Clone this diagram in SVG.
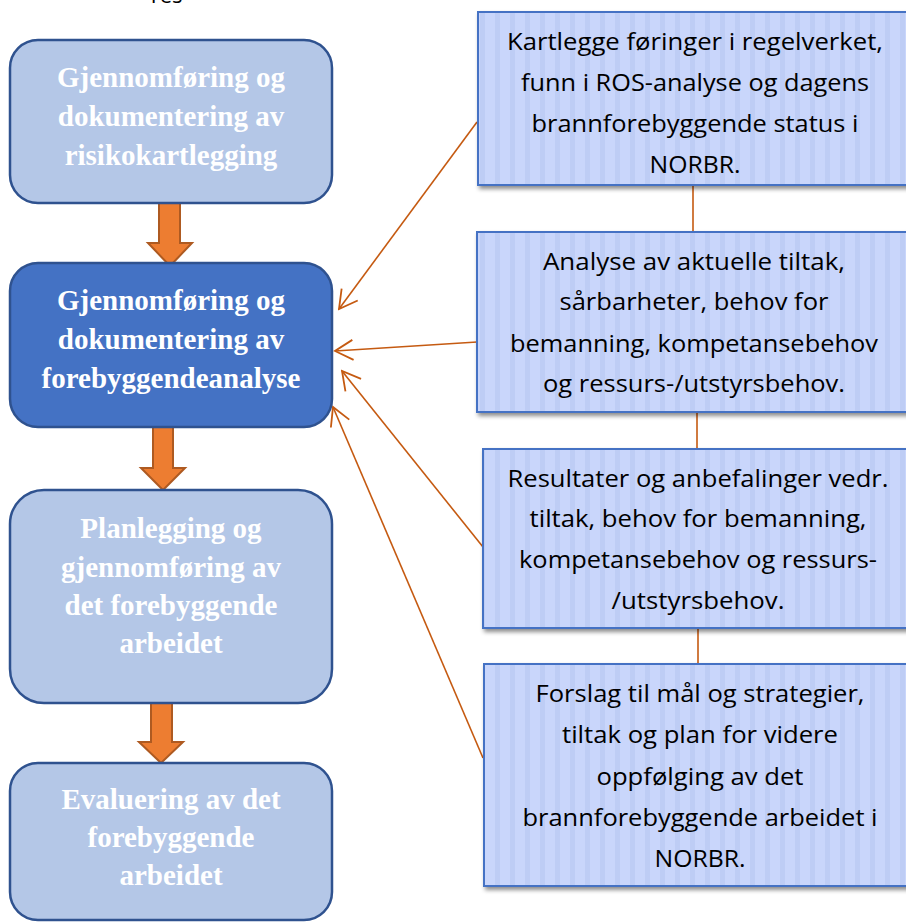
<svg xmlns="http://www.w3.org/2000/svg" width="906" height="922" viewBox="0 0 906 922">
<defs>
<style>
.lbox{fill:#B4C7E7;stroke:#2F528F;stroke-width:2.5}
.dbox{fill:#4472C4;stroke:#2F528F;stroke-width:2.5}
.ltxt{font-family:"Liberation Serif",serif;font-weight:bold;font-size:29px;fill:#FFFFFF;text-anchor:middle}
.rbox{fill:url(#stripes);stroke:#4472C4;stroke-width:2;filter:url(#shadow)}
.rtxt{font-family:"Open Sans","Noto Sans",sans-serif;font-size:24px;fill:#000000;text-anchor:middle}
.block{fill:#ED7D31;stroke:#AE5A21;stroke-width:2}
.thin{stroke:#C55A11;stroke-width:1.6;fill:none}
.arr{marker-end:url(#head)}
</style>
<pattern id="stripes" patternUnits="userSpaceOnUse" width="15" height="10">
<rect width="15" height="10" fill="#C9D6FB"/>
<rect x="0" width="5" height="10" fill="#BECDF5"/>
</pattern>
<filter id="shadow" x="-5%" y="-5%" width="115%" height="120%">
<feDropShadow dx="2" dy="3" stdDeviation="2" flood-color="#000" flood-opacity="0.45"/>
</filter>
<marker id="head" markerUnits="userSpaceOnUse" viewBox="-20 -12 22 24" refX="0" refY="0" markerWidth="22" markerHeight="24" orient="auto">
<path d="M-18,-10 L0,0 L-18,10" fill="none" stroke="#C55A11" stroke-width="1.8"/>
</marker>
</defs>
<rect width="906" height="922" fill="#FFFFFF"/>
<text x="165" y="3" font-family="'Open Sans',sans-serif" font-size="22" text-anchor="middle" fill="#000">Yes</text>

<g id="connectors">
<polygon class="block" points="159,203 180,203 180,243 192,243 170,266 148,243 159,243"/>
<polygon class="block" points="153,427 173,427 173,468 185,468 163,490 141,468 153,468"/>
<polygon class="block" points="151,703 172,703 172,742 183,742 161,763 139,742 151,742"/>
<line class="thin" x1="693" y1="185" x2="693" y2="232"/>
<line class="thin" x1="697" y1="412" x2="697" y2="449"/>
<line class="thin" x1="698" y1="628" x2="698" y2="664"/>
<line class="thin arr" x1="477" y1="122" x2="339" y2="309"/>
<line class="thin arr" x1="477" y1="342" x2="335" y2="351"/>
<line class="thin arr" x1="483" y1="547" x2="342" y2="371"/>
<line class="thin arr" x1="483" y1="758" x2="333" y2="407"/>
</g>

<g id="step1">
<rect class="lbox" x="10" y="40" width="322" height="163" rx="28"/>
<text class="ltxt" x="171" y="87">Gjennomføring og</text>
<text class="ltxt" x="171" y="126">dokumentering av</text>
<text class="ltxt" x="171" y="165">risikokartlegging</text>
</g>
<g id="step2">
<rect class="dbox" x="10" y="263" width="322" height="164" rx="28"/>
<text class="ltxt" x="171" y="310">Gjennomføring og</text>
<text class="ltxt" x="171" y="349">dokumentering av</text>
<text class="ltxt" x="171" y="388">forebyggendeanalyse</text>
</g>
<g id="step3">
<rect class="lbox" x="10" y="490" width="322" height="213" rx="34"/>
<text class="ltxt" x="171" y="538">Planlegging og</text>
<text class="ltxt" x="171" y="577">gjennomføring av</text>
<text class="ltxt" x="171" y="615">det forebyggende</text>
<text class="ltxt" x="171" y="653">arbeidet</text>
</g>
<g id="step4">
<rect class="lbox" x="10" y="763" width="322" height="157" rx="28"/>
<text class="ltxt" x="171" y="809">Evaluering av det</text>
<text class="ltxt" x="171" y="847">forebyggende</text>
<text class="ltxt" x="171" y="885">arbeidet</text>
</g>

<g id="r1">
<rect class="rbox" x="478" y="12" width="434" height="173"/>
<text class="rtxt" x="695" y="50" textLength="376" lengthAdjust="spacingAndGlyphs">Kartlegge føringer i regelverket,</text>
<text class="rtxt" x="695" y="91" textLength="348" lengthAdjust="spacingAndGlyphs">funn i ROS-analyse og dagens</text>
<text class="rtxt" x="695" y="132" textLength="327" lengthAdjust="spacingAndGlyphs">brannforebyggende status i</text>
<text class="rtxt" x="695" y="173" textLength="91" lengthAdjust="spacingAndGlyphs">NORBR.</text>
</g>
<g id="r2">
<rect class="rbox" x="477" y="232" width="434" height="180"/>
<text class="rtxt" x="694" y="270" textLength="302" lengthAdjust="spacingAndGlyphs">Analyse av aktuelle tiltak,</text>
<text class="rtxt" x="694" y="310" textLength="269" lengthAdjust="spacingAndGlyphs">sårbarheter, behov for</text>
<text class="rtxt" x="694" y="352" textLength="368" lengthAdjust="spacingAndGlyphs">bemanning, kompetansebehov</text>
<text class="rtxt" x="694" y="392" textLength="302" lengthAdjust="spacingAndGlyphs">og ressurs-/utstyrsbehov.</text>
</g>
<g id="r3">
<rect class="rbox" x="483" y="449" width="430" height="179"/>
<text class="rtxt" x="698" y="487" textLength="381" lengthAdjust="spacingAndGlyphs">Resultater og anbefalinger vedr.</text>
<text class="rtxt" x="698" y="527" textLength="337" lengthAdjust="spacingAndGlyphs">tiltak, behov for bemanning,</text>
<text class="rtxt" x="698" y="568" textLength="358" lengthAdjust="spacingAndGlyphs">kompetansebehov og ressurs-</text>
<text class="rtxt" x="698" y="609" textLength="173" lengthAdjust="spacingAndGlyphs">/utstyrsbehov.</text>
</g>
<g id="r4">
<rect class="rbox" x="484" y="664" width="433" height="222"/>
<text class="rtxt" x="700" y="702" textLength="329" lengthAdjust="spacingAndGlyphs">Forslag til mål og strategier,</text>
<text class="rtxt" x="700" y="743" textLength="276" lengthAdjust="spacingAndGlyphs">tiltak og plan for videre</text>
<text class="rtxt" x="700" y="785" textLength="207" lengthAdjust="spacingAndGlyphs">oppfølging av det</text>
<text class="rtxt" x="700" y="826" textLength="355" lengthAdjust="spacingAndGlyphs">brannforebyggende arbeidet i</text>
<text class="rtxt" x="700" y="867" textLength="91" lengthAdjust="spacingAndGlyphs">NORBR.</text>
</g>
</svg>
